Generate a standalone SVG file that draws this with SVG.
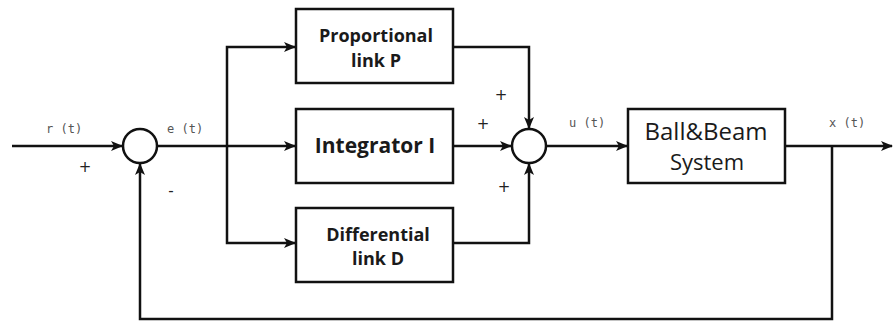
<svg xmlns="http://www.w3.org/2000/svg" width="893" height="323" viewBox="0 0 893 323">
<defs>
<style>
.ln{fill:none;stroke:#111;stroke-width:2.5}
.bx{fill:#fff;stroke:#111;stroke-width:2.5}
.ci{fill:#fff;stroke:#111;stroke-width:2.5}
.bt{font-family:"Open Sans","DejaVu Sans",sans-serif;font-weight:bold;fill:#1a1a1a;text-anchor:middle}
.rt{font-family:"Open Sans","DejaVu Sans",sans-serif;fill:#1a1a1a;text-anchor:middle}
.sg{font-family:"DejaVu Sans Mono","Liberation Mono",monospace;font-size:12px;fill:#555}
.pm{font-family:"DejaVu Sans",sans-serif;font-size:15px;fill:#222;text-anchor:middle}
</style>
<marker id="ah" viewBox="0 0 12 10" refX="11" refY="5" markerWidth="12" markerHeight="10" markerUnits="userSpaceOnUse" orient="auto">
<path d="M0,0 L12,5 L0,10 L3,5 Z" fill="#111"/>
</marker>
</defs>
<g id="connectors">
<path class="ln" d="M12,146 H122" marker-end="url(#ah)"/>
<path class="ln" d="M157,146 H295" marker-end="url(#ah)"/>
<path class="ln" d="M227,146 V47 H295" marker-end="url(#ah)"/>
<path class="ln" d="M227,146 V243 H295" marker-end="url(#ah)"/>
<path class="ln" d="M453,47 H529 V128" marker-end="url(#ah)"/>
<path class="ln" d="M453,146 H511" marker-end="url(#ah)"/>
<path class="ln" d="M453,243 H529 V164" marker-end="url(#ah)"/>
<path class="ln" d="M546,146 H627" marker-end="url(#ah)"/>
<path class="ln" d="M785,146 H892" marker-end="url(#ah)"/>
<path class="ln" d="M832,146 V319 H140 V164" marker-end="url(#ah)"/>
</g>
<g id="sum1"><circle class="ci" cx="140" cy="146" r="17"/></g>
<g id="sum2"><circle class="ci" cx="529" cy="146" r="17"/></g>
<g id="proportional">
<rect class="bx" x="296" y="9" width="157" height="74"/>
<text class="bt" x="376" y="42" font-size="18">Proportional</text>
<text class="bt" x="376" y="67" font-size="18">link P</text>
</g>
<g id="integrator">
<rect class="bx" x="296" y="109" width="157" height="74"/>
<text class="bt" x="375" y="153" font-size="21">Integrator I</text>
</g>
<g id="differential">
<rect class="bx" x="296" y="208" width="157" height="74"/>
<text class="bt" x="378" y="241" font-size="18">Differential</text>
<text class="bt" x="378" y="265" font-size="18">link D</text>
</g>
<g id="ballbeam">
<rect class="bx" x="628" y="109" width="157" height="74"/>
<text class="rt" x="706" y="140" font-size="24">Ball&amp;Beam</text>
<text class="rt" x="707" y="170" font-size="22">System</text>
</g>
<g id="labels">
<text class="sg" x="46" y="133">r (t)</text>
<text class="sg" x="167" y="133">e (t)</text>
<text class="sg" x="569" y="127">u (t)</text>
<text class="sg" x="829" y="127">x (t)</text>
<text class="pm" x="85" y="172">+</text>
<text class="pm" x="171" y="196">-</text>
<text class="pm" x="501" y="100">+</text>
<text class="pm" x="483" y="129">+</text>
<text class="pm" x="504" y="192">+</text>
</g>
</svg>
